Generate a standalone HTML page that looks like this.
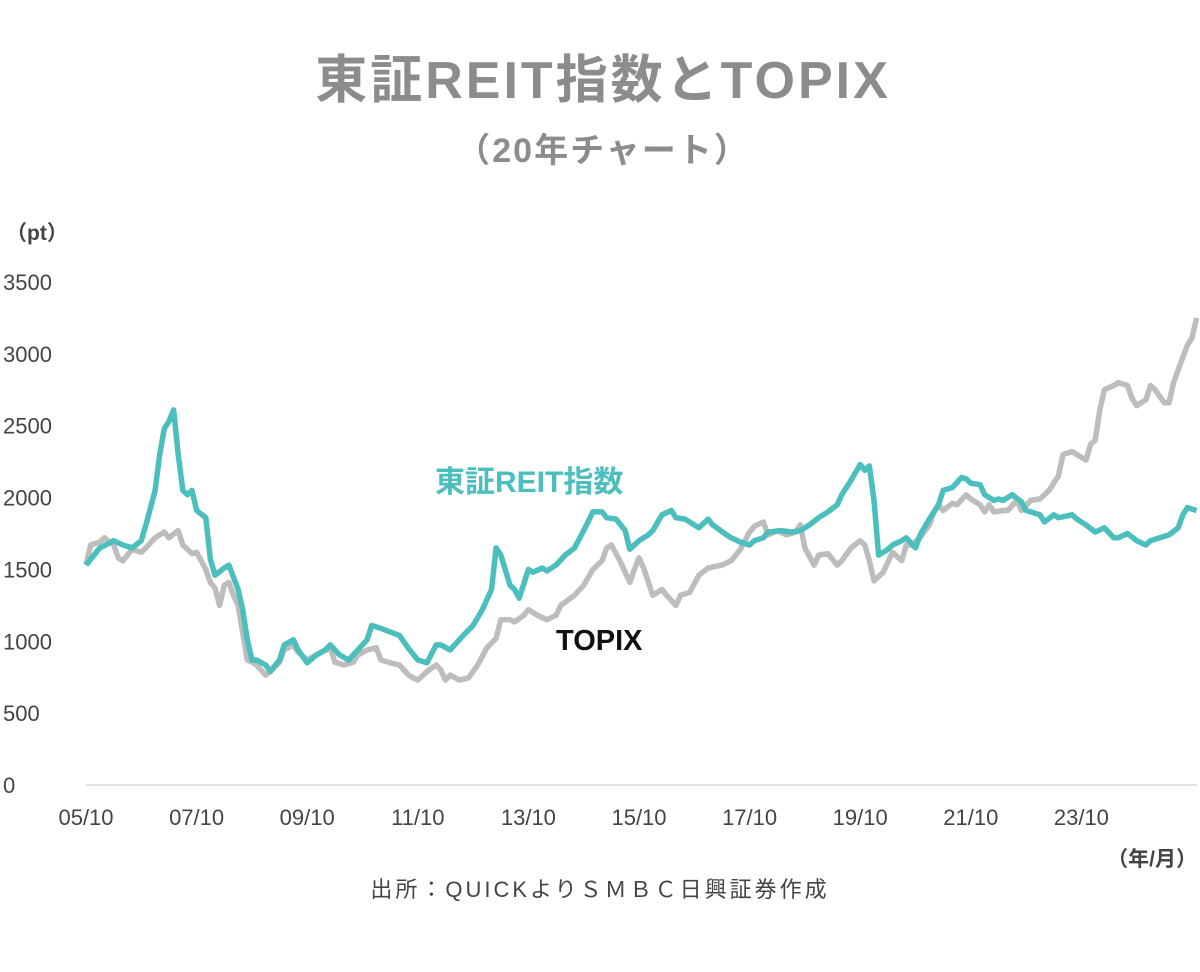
<!DOCTYPE html>
<html><head><meta charset="utf-8">
<style>
body{margin:0;background:#fff;width:1200px;height:972px;overflow:hidden;font-family:"Liberation Sans","Noto Sans CJK JP",sans-serif;}
svg{display:block}
</style></head>
<body>
<svg id="chart" width="1200" height="972" xmlns="http://www.w3.org/2000/svg">
<text x="603" y="98" text-anchor="middle" font-size="52" font-weight="bold" fill="#8c8c8c" letter-spacing="3" font-family="Liberation Sans, Noto Sans CJK JP, sans-serif">東証REIT指数とTOPIX</text>
<text x="603" y="162" text-anchor="middle" font-size="34" font-weight="bold" fill="#8c8c8c" letter-spacing="2" font-family="Liberation Sans, Noto Sans CJK JP, sans-serif">（20年チャート）</text>
<text x="6" y="240" font-size="21" font-weight="bold" fill="#444" font-family="Liberation Sans, Noto Sans CJK JP, sans-serif">（pt）</text>
<text x="1197" y="866" text-anchor="end" font-size="21" font-weight="bold" fill="#444" font-family="Liberation Sans, Noto Sans CJK JP, sans-serif">（年/月）</text>
<text x="600" y="897" text-anchor="middle" font-size="22" fill="#444" letter-spacing="3" font-family="Liberation Sans, Noto Sans CJK JP, sans-serif">出所：QUICKよりＳＭＢＣ日興証券作成</text>
<g id="axes"></g>
<g id="series"></g>
<text x="435" y="492" font-size="30" font-weight="bold" fill="#4bbfbd" font-family="Liberation Sans, Noto Sans CJK JP, sans-serif">東証REIT指数</text>
<text x="556" y="650" font-size="29" font-weight="bold" fill="#111" font-family="Liberation Sans, Noto Sans CJK JP, sans-serif">TOPIX</text>
</svg>
<script>
const yTicks=[0,500,1000,1500,2000,2500,3000,3500];
const xTickMonths=[0,24,48,72,96,120,144,168,192,216];
const xTickLabels=["05/10","07/10","09/10","11/10","13/10","15/10","17/10","19/10","21/10","23/10"];
const reitMonths=[0,3,6,8,10,12,13,15,16,17,18,19,20,21,22,23,24,26,27,28,30,31,33,34,35,36,37,39,40,42,43,45,46,48,50,52,53,55,57,59,61,62,64,66,68,70,72,74,76,77,79,80,82,84,86,88,89,90,92,93,94,96,97,99,100,102,104,106,108,110,112,113,115,117,118,120,122,123,125,127,128,130,132,133,135,136,139,140,142,144,145,147,148,151,153,155,157,159,161,163,164,166,168,169,170,171,172,174,175,177,178,180,181,183,185,186,188,190,191,192,194,195,197,198,199,201,203,204,207,208,210,211,214,215,217,219,221,223,224,226,228,230,231,233,235,237,238,239,241];
const reitValues=[1530,1650,1700,1670,1650,1700,1810,2050,2300,2480,2530,2610,2300,2050,2020,2050,1910,1860,1570,1460,1510,1530,1360,1220,1010,870,870,835,790,870,975,1010,940,850,905,940,975,905,870,940,1010,1110,1090,1065,1040,950,870,850,975,975,940,975,1045,1110,1220,1360,1650,1600,1390,1360,1300,1500,1480,1510,1490,1530,1600,1650,1770,1900,1900,1860,1850,1770,1640,1700,1740,1770,1880,1910,1860,1850,1810,1790,1850,1810,1740,1720,1690,1670,1700,1720,1760,1770,1760,1770,1810,1860,1900,1950,2020,2120,2230,2190,2220,1980,1600,1640,1670,1700,1720,1650,1740,1850,1950,2050,2070,2140,2130,2100,2090,2020,1980,1990,1980,2020,1970,1910,1880,1830,1880,1860,1880,1850,1810,1760,1790,1720,1720,1750,1700,1670,1700,1720,1740,1790,1880,1930,1910];
const topixMonths=[0,1,3,4,6,7,8,10,12,13,15,17,18,20,21,23,24,26,27,28,29,30,31,32,33,35,36,37,39,40,42,43,45,46,48,50,51,53,54,56,58,59,61,63,64,66,68,70,71,72,74,76,77,78,79,81,83,85,87,89,90,92,93,95,96,98,100,102,103,106,108,110,112,113,114,116,118,119,120,121,123,125,126,128,129,131,133,135,138,140,142,144,145,147,148,150,152,154,155,156,158,159,161,163,164,166,168,169,170,171,173,174,175,177,178,179,181,183,184,185,186,188,189,191,192,194,195,196,197,199,200,202,203,205,207,208,209,211,212,214,215,217,218,219,220,221,223,224,226,227,228,230,231,232,234,235,236,237,239,240,241];
const topixValues=[1530,1670,1690,1720,1670,1580,1560,1640,1620,1650,1720,1760,1720,1770,1670,1610,1620,1500,1410,1370,1250,1390,1410,1320,1250,870,855,835,765,790,855,940,975,925,870,905,925,955,855,835,855,905,940,955,870,850,835,765,745,730,790,835,800,730,765,730,745,835,955,1020,1150,1150,1135,1180,1220,1180,1150,1180,1250,1320,1390,1500,1560,1650,1670,1550,1410,1500,1580,1510,1320,1360,1320,1250,1320,1340,1460,1510,1530,1560,1640,1760,1800,1830,1740,1770,1740,1760,1810,1650,1530,1600,1610,1530,1560,1650,1700,1670,1560,1420,1480,1550,1620,1560,1670,1670,1720,1810,1900,1950,1910,1960,1950,2020,1990,1950,1900,1950,1900,1910,1910,1980,1910,1980,1990,2020,2050,2150,2300,2320,2300,2260,2370,2400,2610,2750,2780,2800,2780,2690,2640,2680,2780,2750,2660,2660,2800,2890,3060,3110,3250];

const NS="http://www.w3.org/2000/svg";
const X0=86,PXM=55.3/12,Y0=785,PXV=(785-282)/3500;
function xScale(m){return X0+m*PXM;}
function yScale(v){return Y0-v*PXV;}
const axes=document.getElementById('axes');
const base=document.createElementNS(NS,'line');


base.setAttribute('x1',X0);base.setAttribute('x2',1197);base.setAttribute('y1',Y0);base.setAttribute('y2',Y0);
base.setAttribute('stroke','#d9d9d9');base.setAttribute('stroke-width','1.5');
axes.appendChild(base);
yTicks.forEach(v=>{
 const t=document.createElementNS(NS,'text');
 
 
 t.setAttribute('x',3);t.setAttribute('y',yScale(v)+8);
 t.setAttribute('font-size','22');t.setAttribute('fill','#444');
 t.setAttribute('font-family','Liberation Sans, sans-serif');
 t.textContent=v;axes.appendChild(t);
});
xTickMonths.forEach((m,i)=>{
 const t=document.createElementNS(NS,'text');
 
 
 t.setAttribute('x',xScale(m));t.setAttribute('y',825);
 t.setAttribute('text-anchor','middle');
 t.setAttribute('font-size','22');t.setAttribute('fill','#444');
 t.setAttribute('font-family','Liberation Sans, sans-serif');
 t.textContent=xTickLabels[i];axes.appendChild(t);
});
const series=document.getElementById('series');
function drawLine(ms,vs,color,name){
 const p=document.createElementNS(NS,'polyline');
 
 
 p.setAttribute('points',ms.map((m,i)=>xScale(m).toFixed(1)+','+yScale(vs[i]).toFixed(1)).join(' '));
 p.setAttribute('fill','none');p.setAttribute('stroke',color);
 p.setAttribute('stroke-width','5.5');p.setAttribute('stroke-linejoin','round');
 series.appendChild(p);
}
drawLine(topixMonths,topixValues,'#bdbdbd','topix-line');
drawLine(reitMonths,reitValues,'#4bbfbd','reit-index-line');
</script>
</body></html>
